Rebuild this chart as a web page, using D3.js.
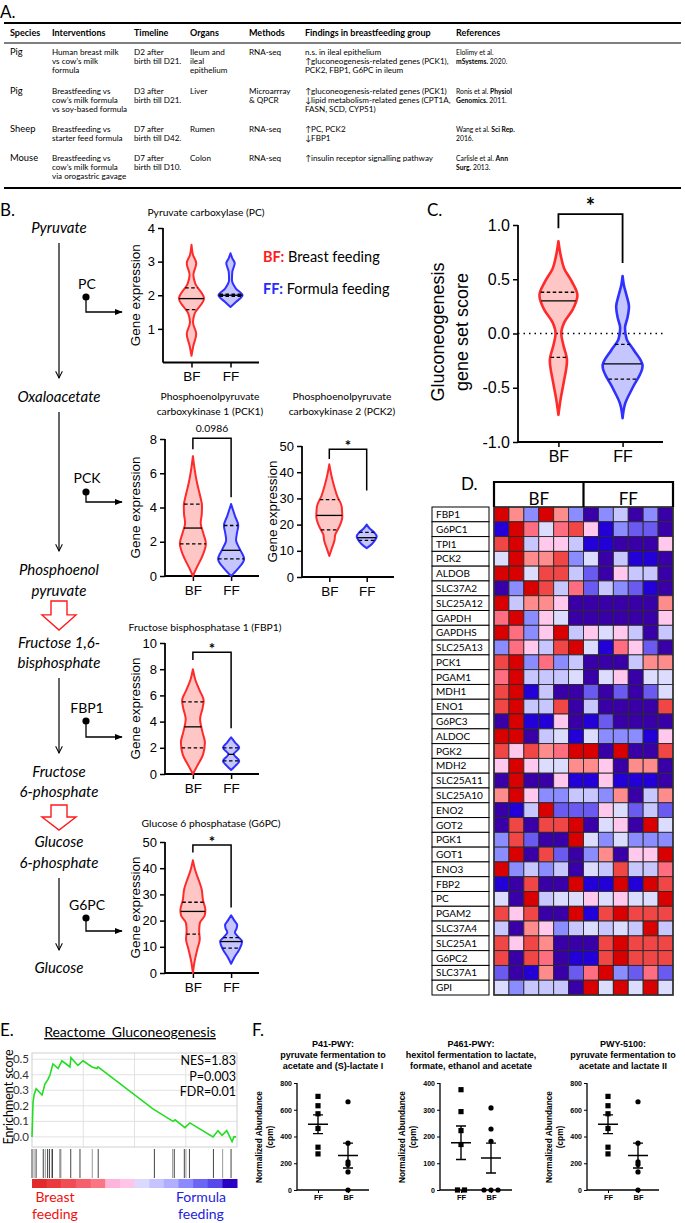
<!DOCTYPE html>
<html lang="en">
<head>
<meta charset="utf-8">
<title>Gluconeogenesis and breastfeeding</title>
<script src="https://d3js.org/d3.v7.min.js"></script>
<style>
  body { margin: 0; background: #fff; }
  svg { font-family: Lato, "Open Sans", sans-serif; }
  .arial { font-family: "Liberation Sans", Arial, sans-serif; }
</style>
</head>
<body>
<svg id="fig" width="685" height="1223"></svg>
<script>
// ---------- A. table ----------
var tableHeader = ["Species", "Interventions", "Timeline", "Organs", "Methods", "Findings in breastfeeding group", "References"];
var species = ["Pig", "Pig", "Sheep", "Mouse"];
var interventions = [["Human breast milk", "vs cow\u2019s milk", "formula"],
                     ["Breastfeeding vs", "cow\u2019s milk formula", "vs soy-based formula"],
                     ["Breastfeeding vs", "starter feed formula"],
                     ["Breastfeeding vs", "cow\u2019s milk formula", "via orogastric gavage"]];
var timelines = [["D2 after", "birth till D21."], ["D3 after", "birth till D21."],
                 ["D7 after", "birth till D42."], ["D7 after", "birth till D10."]];
var organs = [["Ileum and", "ileal", "epithelium"], ["Liver"], ["Rumen"], ["Colon"]];
var methods = [["RNA-seq"], ["Microarrray", "& QPCR"], ["RNA-seq"], ["RNA-seq"]];
var findings = [["n.s. in ileal epithelium", "\u2191gluconeogenesis-related genes (PCK1),", "PCK2, FBP1, G6PC in ileum"],
                ["\u2191gluconeogenesis-related genes (PCK1)", "\u2193lipid metabolism-related genes (CPT1A,", "FASN, SCD, CYP51)"],
                ["\u2191PC, PCK2", "\u2193FBP1"],
                ["\u2191insulin receptor signalling pathway"]];
// each line: [plain, bold, plain]
var references = [[["Elolimy et al.", "", ""], ["", "mSystems.", " 2020."]],
                  [["Ronis et al. ", "Physiol", ""], ["", "Genomics.", " 2011."]],
                  [["Wang et al. ", "Sci Rep.", ""], ["2016.", "", ""]],
                  [["Carlisle et al. ", "Ann", ""], ["", "Surg.", " 2013."]]];

// ---------- B. violins (value, relative density) ----------
var groups = ["BF", "FF"];
var pcBF = [[0.2,0],[0.5,0.15],[0.85,0.38],[1.2,0.12],[1.45,0.25],[1.9,1],[2.35,0.3],[2.6,0.15],[2.95,0.38],[3.2,0.12],[3.5,0]];
var pcFF = [[1.65,0],[1.8,0.45],[2.0,1],[2.2,0.45],[2.45,0.12],[2.7,0.15],[2.95,0.35],[3.1,0.15],[3.25,0]];
var pcStats = [[1.9, 1.57, 2.22], [2.0, 1.97, 2.03]];          // median, q1, q3
var pck1BF = [[0,0],[0.5,0.3],[1.2,0.75],[1.9,1],[2.5,0.8],[3.1,0.6],[3.6,0.68],[4.1,0.7],[4.7,0.55],[5.5,0.3],[6.3,0.12],[7,0]];
var pck1FF = [[0,0],[0.4,0.5],[1.0,1],[1.6,0.65],[2.1,0.38],[2.5,0.45],[2.95,0.55],[3.5,0.3],[4.2,0]];
var pck1Stats = [[2.8, 1.88, 4.2], [1.5, 1.0, 2.95]];
var pck2BF = [[8,0],[11,0.2],[14,0.4],[16,0.45],[19,0.75],[23,1],[27,0.95],[31,0.6],[35,0.35],[39,0.15],[43,0]];
var pck2FF = [[11,0],[12.5,0.5],[14.5,0.9],[15.5,1],[17,0.75],[18.5,0.3],[20,0]];
var pck2Stats = [[23.5, 18, 29.5], [15, 14, 17]];
var fbp1BF = [[0,0],[0.6,0.35],[1.5,0.85],[2.4,1],[3.2,0.8],[4.2,0.6],[5.0,0.8],[5.6,0.9],[6.4,0.55],[7.2,0.2],[8,0]];
var fbp1FF = [[0.3,0],[0.6,0.45],[1.0,0.9],[1.5,0.3],[2.0,0.9],[2.4,0.45],[2.8,0]];
var fbp1Stats = [[3.6, 2.0, 5.5], [1.5, 1.0, 2.0]];
var g6pcBF = [[0,0],[4,0.12],[9,0.35],[13,0.55],[16,0.5],[19,0.55],[22,0.95],[24,1],[28,0.8],[32,0.7],[35,0.5],[39,0.2],[43,0]];
var g6pcFF = [[3.5,0],[6,0.3],[9,0.75],[12,1],[14,0.6],[15.5,0.35],[17,0.5],[18.3,0.55],[20,0.3],[22,0]];
var g6pcStats = [[23.5, 14.8, 27], [12, 9.5, 13.5]];

// ---------- C. gene set score ----------
var scoreBF = [[-0.75,0],[-0.6,0.12],[-0.45,0.28],[-0.25,0.45],[-0.1,0.25],[0,0.15],[0.1,0.3],[0.22,0.75],[0.35,1],[0.48,0.7],[0.6,0.3],[0.72,0.12],[0.85,0]];
var scoreFF = [[-0.78,0],[-0.65,0.12],[-0.5,0.5],[-0.3,1],[-0.15,0.55],[-0.05,0.2],[0.05,0.12],[0.15,0.25],[0.25,0.32],[0.35,0.2],[0.45,0.06],[0.53,0]];
var scoreStats = [[0.3, -0.22, 0.38], [-0.28, -0.42, -0.1]];
var scoreTicks = [-1.0, -0.5, 0.0, 0.5, 1.0];

// ---------- D. heatmap (levels -5 blue .. 5 red) ----------
var genes = ["FBP1","G6PC1","TPI1","PCK2","ALDOB","SLC37A2","SLC25A12","GAPDH","GAPDHS","SLC25A13","PCK1",
             "PGAM1","MDH1","ENO1","G6PC3","ALDOC","PGK2","MDH2","SLC25A11","SLC25A10","ENO2","GOT2","PGK1",
             "GOT1","ENO3","FBP2","PC","PGAM2","SLC37A4","SLC25A1","G6PC2","SLC37A1","GPI"];
var samples = ["BF1","BF2","BF3","BF4","BF5","BF6","FF1","FF2","FF3","FF4","FF5","FF6"];
var heatLevels = [
  [5,2,-2,5,2,-2, -5,-2,-1,-5,-2,-5],
  [-4,5,3,0,3,4, 1,-4,-2,-3,-3,-5],
  [4,5,-1,1,1,-1, -4,-4,-5,-5,-5,1],
  [0,5,2,2,4,-2, 0,-5,-1,-4,-4,-5],
  [5,5,0,4,4,-1, -3,-5,1,-1,-1,-5],
  [-5,-2,5,4,-1,3, -3,-1,-2,-3,-4,-5],
  [5,-1,2,2,1,-5, -5,-5,-5,-5,-5,2],
  [3,5,-2,1,0,-5, -5,-5,-5,-5,-5,1],
  [5,3,-2,1,5,-1, 1,0,1,-1,-5,-1],
  [-2,3,1,-1,4,5, 0,-4,3,1,-3,-5],
  [4,5,-2,3,-2,-1, -5,-5,-5,-1,2,2],
  [3,5,-1,-1,-1,0, -5,0,1,-5,0,0],
  [4,5,-4,-1,-5,-5, -3,-5,-3,-5,-3,0],
  [4,5,-1,-1,4,-5, -1,-5,-5,-5,-5,4],
  [-5,5,-4,-4,1,-5, -4,-3,-5,-5,-5,-5],
  [5,5,-5,-1,0,-4, 0,-2,-2,-2,-4,1],
  [4,1,4,2,3,5, 5,-5,5,-5,-5,4],
  [1,5,1,0,0,2, 2,1,-5,2,2,-5],
  [-5,5,-5,-5,1,-4, -4,1,-4,-4,-4,-5],
  [2,5,1,-2,-2,-1, -1,-2,2,-5,-1,2],
  [-5,-4,-1,5,-3,-3, -3,1,0,-3,-1,-3],
  [-5,4,-5,4,4,5, -5,0,1,-5,5,0],
  [-2,4,-3,-5,-5,5, 0,-2,0,-2,-2,-2],
  [-2,5,-5,4,-3,-5, -2,2,-5,1,1,5],
  [5,-2,-1,-2,-1,-5, 0,-1,4,-1,-1,3],
  [-4,-5,4,-5,-5,5, -4,-4,5,-4,5,4],
  [0,-5,5,-1,0,0, 1,0,1,0,0,5],
  [4,1,4,-5,-5,5, -4,4,5,4,4,4],
  [-1,-5,2,1,-2,-1, 0,-1,0,-1,5,-1],
  [4,1,4,2,-5,-5, -5,4,5,4,4,4],
  [4,-5,4,3,-5,-4, -4,4,5,4,4,4],
  [-3,-5,-4,2,-5,-3, 3,5,-2,-3,3,-3],
  [0,-2,-1,-1,-1,-5, 5,0,5,0,5,0]
];
var heatColors = ["#3a00a8","#2400d8","#6a5af0","#8a8cff","#c8c6ff","#dcdcff",
                  "#ffc8ec","#ff8c8c","#ff6e80","#f04646","#d80000"];

// ---------- E. GSEA ----------
var esRank  = [0,0.5,1,2,4.9,6.3,7.8,8.8,10.2,12.7,14.6,18.5,19,22.4,24.9,29.3,31.7,32.2,59,68.8,69.8,74.6,77,88.3,90.7,92.7,95,97.6,98.5,99.5];
var esScore = [0,0.22,0.27,0.31,0.27,0.34,0.37,0.40,0.47,0.44,0.49,0.45,0.51,0.46,0.49,0.45,0.44,0.45,0.18,0.10,0.11,0.06,0.09,0.0,0.04,0.01,0.04,-0.03,0.0,0.0];
var hitRank = [0,1,2,5.5,6.5,7.6,8.5,9.6,10,13.7,14.1,18.9,23.4,29.4,32.3,59.7,68.6,69.4,74.3,75.1,76.8,88.5,93,97.1];
var esTicks = [0.0, 0.1, 0.2, 0.3, 0.4, 0.5];
var gseaStats = ["NES=1.83", "P=0.003", "FDR=0.01"];
var rankColors = ["#e32a2a","#ea3a3e","#f04c54","#f5606c","#f97682","#ffb4dc","#ffc4e6","#dcd8ff","#c6c4ff",
                  "#b0aeff","#8c8aff","#6c66f4","#5648ea","#2a00c4"];

// ---------- F. pathways ----------
var pwTitles = [["P41-PWY:", "pyruvate fermentation to", "acetate and (S)-lactate I"],
                ["P461-PWY:", "hexitol fermentation to lactate,", "formate, ethanol and acetate"],
                ["PWY-5100:", "pyruvate fermentation to", "acetate and lactate II"]];
var pwGroups = ["FF", "BF"];
var p41FF = [700, 630, 570, 460, 320, 270],  p41BF = [660, 350, 210, 190, 135, 0];
var p461FF = [375, 293, 222, 170, 0, 0],     p461BF = [307, 228, 182, 0, 0, 0];
var p5100FF = [700, 630, 570, 460, 320, 270], p5100BF = [660, 350, 210, 190, 135, 0];
var pwMax = [800, 400, 800];

var RED = "#ff2a2a", BLUE = "#3030ff", RED_FILL = "#ffc6c6", BLUE_FILL = "#c6c6ff";
var svg = d3.select("#fig");

function label(t, x, y, size, opt) {
  opt = opt || {};
  return svg.append("text").attr("x", x).attr("y", y).attr("font-size", size)
    .attr("text-anchor", opt.anchor || "start")
    .attr("font-weight", opt.bold ? "bold" : null)
    .attr("font-style", opt.italic ? "italic" : null)
    .attr("class", opt.cls || null)
    .attr("fill", opt.fill || "#000")
    .text(t);
}
function vlabel(t, cx, cy, size, cls, bold) {
  svg.append("text").attr("transform", "translate(" + cx + "," + cy + ") rotate(-90)")
    .attr("dy", "0.35em").attr("text-anchor", "middle").attr("font-size", size)
    .attr("class", cls || null).attr("font-weight", bold ? "bold" : null).text(t);
}
var hyphen = function(f) { return function(d) { return f(d).replace("\u2212", "-"); }; };

// ================= A =================
label("A.", 0, 18, 17);
svg.append("line").attr("x1", 4).attr("x2", 681).attr("y1", 23).attr("y2", 23).attr("stroke", "#000").attr("stroke-width", 2);
svg.append("line").attr("x1", 4).attr("x2", 681).attr("y1", 43).attr("y2", 43).attr("stroke", "#000").attr("stroke-width", 1);
svg.append("line").attr("x1", 4).attr("x2", 681).attr("y1", 188).attr("y2", 188).attr("stroke", "#000").attr("stroke-width", 2);
var colX = [10, 52, 134, 190, 249, 305, 456];
tableHeader.forEach(function(h, i) { label(h, colX[i], 36, 9, {bold: true}); });
var rowY = [54.5, 93.5, 132, 161], lineStep = 9.2;
var bodyCols = [interventions, timelines, organs, methods, findings];
species.forEach(function(s, r) {
  label(s, colX[0], rowY[r], 9.4);
  bodyCols.forEach(function(col, c) {
    col[r].forEach(function(line, k) { label(line, colX[c + 1], rowY[r] + k * lineStep, 8.1); });
  });
  references[r].forEach(function(parts, k) {
    var t = svg.append("text").attr("x", colX[6]).attr("y", rowY[r] + k * lineStep).attr("font-size", 6.8);
    parts.forEach(function(p, j) { if (p) t.append("tspan").attr("font-weight", j === 1 ? "bold" : null).text(p); });
  });
});

// ================= B =================
label("B.", 0, 216, 17);
var pathText = [["Pyruvate", 233], ["Oxaloacetate", 402], ["Phosphoenol", 575], ["pyruvate", 596],
                ["Fructose 1,6-", 648], ["bisphosphate", 668], ["Fructose", 777], ["6-phosphate", 797],
                ["Glucose", 847], ["6-phosphate", 868], ["Glucose", 973]];
pathText.forEach(function(p) { label(p[0], 59, p[1], 15, {anchor: "middle", italic: true}); });

svg.append("defs").html(
  '<marker id="chev" viewBox="0 0 10 10" refX="9" refY="5" markerWidth="7" markerHeight="7" orient="auto">' +
  '<path d="M1,1 L9,5 L1,9" fill="none" stroke="#000" stroke-width="1.2"/></marker>' +
  '<marker id="tri" viewBox="0 0 10 10" refX="9" refY="5" markerWidth="6" markerHeight="6" orient="auto">' +
  '<path d="M0,1 L10,5 L0,9 z" fill="#000"/></marker>');

[[243, 378], [412, 551], [678, 753], [878, 950]].forEach(function(a) {
  svg.append("line").attr("x1", 59).attr("x2", 59).attr("y1", a[0]).attr("y2", a[1])
    .attr("stroke", "#000").attr("stroke-width", 1.2).attr("marker-end", "url(#chev)");
});
[["PC", 289, 297, 312], ["PCK", 483, 492, 502], ["FBP1", 713, 721, 737], ["G6PC", 910, 918, 931]].forEach(function(e) {
  label(e[0], 87, e[1], 14, {anchor: "middle"});
  svg.append("circle").attr("cx", 86).attr("cy", e[2]).attr("r", 3.6).attr("fill", "#000");
  svg.append("path").attr("d", "M86," + e[2] + " V" + e[3] + " H122").attr("fill", "none")
    .attr("stroke", "#000").attr("stroke-width", 1.3).attr("marker-end", "url(#tri)");
});
[[601, 630], [805, 830]].forEach(function(b) {
  var y0 = b[0], y1 = b[1], ym = y0 + (y1 - y0) * 0.48;
  svg.append("path").attr("d", "M51," + y0 + " H67 V" + ym + " H76 L59," + y1 + " L42," + ym + " H51 Z")
    .attr("fill", "#fff").attr("stroke", "#ff1a1a").attr("stroke-width", 1.4);
});

function drawViolin(g, y, cx, prof, stats, maxHalf, stroke, fill, sw) {
  var w = d3.scaleLinear().domain([0, 1]).range([0, maxHalf]);
  var area = d3.area().curve(d3.curveMonotoneY)
    .y(function(d) { return y(d[0]); })
    .x0(function(d) { return cx - w(d[1]); })
    .x1(function(d) { return cx + w(d[1]); });
  g.append("path").datum(prof).attr("d", area).attr("fill", fill)
    .attr("stroke", stroke).attr("stroke-width", sw).attr("stroke-linejoin", "round");
  var hw = d3.scaleLinear().domain(prof.map(function(d) { return d[0]; }))
    .range(prof.map(function(d) { return w(d[1]); }));
  stats.forEach(function(v, i) {
    var h = Math.max(hw(v), 3);
    g.append("line").attr("x1", cx - h).attr("x2", cx + h).attr("y1", y(v)).attr("y2", y(v))
      .attr("stroke", "#000").attr("stroke-width", 1.3)
      .attr("stroke-dasharray", i === 0 ? null : "3.5,2.5");
  });
}

function violinChart(o) {
  var g = svg.append("g").attr("class", "arial");
  var y = d3.scaleLinear().domain(o.domain).range([o.yBot, o.yTop]);
  var x = d3.scalePoint().domain(groups).range([o.axisX, o.xEnd]).padding(o.pad || 0.73);
  var ya = g.append("g").attr("transform", "translate(" + o.axisX + ",0)")
    .call(d3.axisLeft(y).tickValues(o.ticks).tickFormat(hyphen(d3.format(o.fmt || "d"))).tickSize(5).tickPadding(3));
  ya.select(".domain").attr("d", "M0," + o.yTop + "V" + o.yBot).attr("stroke-width", 1.8);
  ya.selectAll(".tick line").attr("stroke-width", 1.5);
  ya.selectAll("text").attr("font-size", o.tickSize || 13).attr("font-family", "Liberation Sans");
  var xa = g.append("g").attr("transform", "translate(0," + o.yBot + ")")
    .call(d3.axisBottom(x).tickSize(5).tickPadding(4));
  xa.select(".domain").attr("d", "M" + o.axisX + ",0H" + o.xEnd).attr("stroke-width", 1.8);
  xa.selectAll(".tick line").attr("stroke-width", 1.5);
  xa.selectAll("text").attr("font-size", o.catSize || 13.5).attr("font-family", "Liberation Sans");
  drawViolin(g, y, x("BF"), o.bf, o.stats[0], o.half[0], RED, RED_FILL, o.sw || 2);
  drawViolin(g, y, x("FF"), o.ff, o.stats[1], o.half[1], BLUE, BLUE_FILL, o.sw || 2);
  if (o.title) o.title.forEach(function(t, k) {
    label(t, o.titleX, o.titleY + k * 15, 10.3, {anchor: "middle"});
  });
  if (o.ylab) vlabel(o.ylab, o.ylabX, (o.yTop + o.yBot) / 2, o.ylabSize || 13.5, "arial");
  if (o.bracket) {
    var b = o.bracket, star = b[3] === "*";
    g.append("path").attr("d", "M" + x("BF") + "," + y(b[1]) + "V" + y(b[0]) + "H" + x("FF") + "V" + y(b[2]))
      .attr("fill", "none").attr("stroke", "#000").attr("stroke-width", o.bsw || 1.5);
    label(b[3], (x("BF") + x("FF")) / 2, y(b[0]) + (star ? o.starDy : -6), star ? o.starSize : 10.3,
      {anchor: "middle", bold: star});
  }
  return {x: x, y: y, g: g};
}

violinChart({axisX: 163, xEnd: 259, yTop: 228, yBot: 362.5, domain: [0, 4], ticks: [1, 2, 3, 4],
  bf: pcBF, ff: pcFF, stats: pcStats, half: [12.5, 12], title: ["Pyruvate carboxylase (PC)"], titleX: 206, titleY: 216,
  ylab: "Gene expression", ylabX: 135});
violinChart({axisX: 165, xEnd: 259, yTop: 439, yBot: 576, domain: [0, 8], ticks: [0, 2, 4, 6, 8],
  bf: pck1BF, ff: pck1FF, stats: pck1Stats, half: [13, 13], title: ["Phosphoenolpyruvate", "carboxykinase 1 (PCK1)"],
  titleX: 210, titleY: 400, ylab: "Gene expression", ylabX: 135, bracket: [8.05, 7.4, 4.6, "0.0986"]});
violinChart({axisX: 302, xEnd: 394, yTop: 446, yBot: 577, domain: [0, 50], ticks: [0, 10, 20, 30, 40, 50],
  bf: pck2BF, ff: pck2FF, stats: pck2Stats, half: [13, 10], title: ["Phosphoenolpyruvate", "carboxykinase 2 (PCK2)"],
  titleX: 342, titleY: 400, ylab: "Gene expression", ylabX: 272, bracket: [48.8, 45, 33, "*"], starDy: 2, starSize: 15});
violinChart({axisX: 165, xEnd: 259, yTop: 643, yBot: 774, domain: [0, 10], ticks: [0, 2, 4, 6, 8, 10],
  bf: fbp1BF, ff: fbp1FF, stats: fbp1Stats, half: [12, 9], title: ["Fructose bisphosphatase 1 (FBP1)"],
  titleX: 205, titleY: 631, ylab: "Gene expression", ylabX: 135, bracket: [9.3, 8.7, 3.5, "*"], starDy: 2, starSize: 15});
violinChart({axisX: 165, xEnd: 259, yTop: 842, yBot: 973, domain: [0, 50], ticks: [0, 10, 20, 30, 40, 50],
  bf: g6pcBF, ff: g6pcFF, stats: g6pcStats, half: [12.5, 11], title: ["Glucose 6 phosphatase (G6PC)"],
  titleX: 211, titleY: 827, ylab: "Gene expression", ylabX: 135, bracket: [48.9, 46, 25, "*"], starDy: 2, starSize: 15});

var lg1 = svg.append("text").attr("x", 263).attr("y", 262).attr("font-size", 14.5);
lg1.append("tspan").attr("fill", "#ff1a1a").attr("font-weight", "bold").text("BF:");
lg1.append("tspan").text(" Breast feeding");
var lg2 = svg.append("text").attr("x", 263).attr("y", 294).attr("font-size", 14.5);
lg2.append("tspan").attr("fill", "#2a2aff").attr("font-weight", "bold").text("FF:");
lg2.append("tspan").text(" Formula feeding");

// ================= C =================
label("C.", 427, 216, 17);
(function() {
  var c = violinChart({axisX: 518, xEnd: 663, yTop: 225, yBot: 442, domain: [-1, 1], ticks: scoreTicks, fmt: ".1f",
    pad: 0.63, bf: scoreBF, ff: scoreFF, stats: scoreStats, half: [19, 20], tickSize: 16, catSize: 16, sw: 2.6});
  c.g.append("line").attr("x1", 518).attr("x2", 663).attr("y1", c.y(0)).attr("y2", c.y(0))
    .attr("stroke", "#000").attr("stroke-width", 1.6).attr("stroke-dasharray", "1.5,4");
  c.g.append("path").attr("d", "M" + c.x("BF") + "," + c.y(0.97) + "V" + c.y(1.1) + "H" + c.x("FF") + "V" + c.y(0.65))
    .attr("fill", "none").attr("stroke", "#000").attr("stroke-width", 1.8);
  label("*", (c.x("BF") + c.x("FF")) / 2, 214, 22, {anchor: "middle", bold: true});
  vlabel("Gluconeogenesis", 438, 332, 18, "arial");
  vlabel("gene set score", 462, 332, 18, "arial");
})();

// ================= D =================
label("D.", 461, 490, 17);
(function() {
  var x = d3.scaleBand().domain(samples).range([494, 673]);
  var y = d3.scaleBand().domain(genes).range([507, 995]);
  var col = d3.scaleOrdinal().domain(d3.range(-5, 6)).range(heatColors);
  var g = svg.append("g");
  genes.forEach(function(gene, r) {
    g.selectAll(null).data(heatLevels[r]).enter().append("rect")
      .attr("x", function(d, i) { return x(samples[i]); }).attr("y", y(gene))
      .attr("width", x.bandwidth()).attr("height", y.bandwidth())
      .attr("fill", function(d) { return col(d); }).attr("stroke", "#2a2a2a").attr("stroke-width", 0.9);
    g.append("rect").attr("x", 432).attr("y", y(gene)).attr("width", 57).attr("height", y.bandwidth())
      .attr("fill", "#fff").attr("stroke", "#000").attr("stroke-width", 1);
    g.append("text").attr("x", 436).attr("y", y(gene) + y.bandwidth() / 2).attr("dy", "0.36em")
      .attr("font-size", 10).text(gene);
  });
  g.append("rect").attr("x", 494).attr("y", 507).attr("width", 179).attr("height", 488)
    .attr("fill", "none").attr("stroke", "#333").attr("stroke-width", 1.6);
  g.append("path").attr("d", "M494,507V482H673V507M" + x("FF1") + ",482V507").attr("fill", "none")
    .attr("stroke", "#000").attr("stroke-width", 2.2);
  g.append("text").attr("x", (494 + x("FF1")) / 2).attr("y", 505).attr("text-anchor", "middle").attr("font-size", 17).text("BF");
  g.append("text").attr("x", (x("FF1") + 673) / 2).attr("y", 505).attr("text-anchor", "middle").attr("font-size", 17).text("FF");
})();

// ================= E =================
label("E.", 0, 1036, 17);
label("Reactome_Gluconeogenesis", 130, 1037, 14, {anchor: "middle"}).attr("text-decoration", "underline");
(function() {
  var x = d3.scaleLinear().domain([0, 100]).range([32, 237]);
  var y = d3.scaleLinear().domain([-0.065, 0.54]).range([1147, 1053]);
  var g = svg.append("g");
  esTicks.forEach(function(t) {
    g.append("line").attr("x1", 32).attr("x2", 237).attr("y1", y(t)).attr("y2", y(t)).attr("stroke", "#e2e2e2");
    g.append("text").attr("x", 29).attr("y", y(t)).attr("dy", "0.35em").attr("text-anchor", "end")
      .attr("font-size", 11.5).attr("fill", "#333").text(d3.format(".1f")(t));
  });
  [25, 50, 75].forEach(function(t) {
    g.append("line").attr("x1", x(t)).attr("x2", x(t)).attr("y1", 1053).attr("y2", 1147).attr("stroke", "#e2e2e2");
  });
  g.append("rect").attr("x", 32).attr("y", 1053).attr("width", 205).attr("height", 94).attr("fill", "none").attr("stroke", "#cfcfcf");
  var line = d3.line().x(function(d, i) { return x(esRank[i]); }).y(function(d) { return y(d); });
  g.append("path").datum(esScore).attr("d", line).attr("fill", "none").attr("stroke", "#22dd22").attr("stroke-width", 1.6);
  g.selectAll(null).data(hitRank).enter().append("line")
    .attr("x1", function(d) { return x(d); }).attr("x2", function(d) { return x(d); })
    .attr("y1", 1149).attr("y2", 1178).attr("stroke", function(d, i) { return i % 3 === 1 ? "#999" : "#444"; })
    .attr("stroke-width", 1);
  var cb = d3.scaleBand().domain(d3.range(rankColors.length)).range([32, 237]);
  g.selectAll(null).data(rankColors).enter().append("rect")
    .attr("x", function(d, i) { return cb(i); }).attr("y", 1179).attr("width", cb.bandwidth() + 0.5).attr("height", 9)
    .attr("fill", function(d) { return d; });
  gseaStats.forEach(function(s, i) {
    g.append("text").attr("x", 236).attr("y", 1065 + i * 15.5).attr("text-anchor", "end").attr("font-size", 12.5).text(s);
  });
  vlabel("Enrichment score", 9, 1097, 12.5);
  label("Breast", 55, 1202, 14, {anchor: "middle", fill: "#ee1111"});
  label("feeding", 55, 1219, 14, {anchor: "middle", fill: "#ee1111"});
  label("Formula", 201, 1202, 14, {anchor: "middle", fill: "#2222dd"});
  label("feeding", 201, 1219, 14, {anchor: "middle", fill: "#2222dd"});
})();

// ================= F =================
label("F.", 252, 1036, 17);
(function() {
  var sets = [[p41FF, p41BF], [p461FF, p461BF], [p5100FF, p5100BF]];
  var axes = [297, 440, 587], centers = [333, 471, 623];
  sets.forEach(function(s, k) {
    var ax = axes[k];
    var g = svg.append("g").attr("class", "arial");
    pwTitles[k].forEach(function(t, j) {
      g.append("text").attr("x", centers[k]).attr("y", 1047 + j * 11).attr("text-anchor", "middle")
        .attr("font-size", 9).attr("font-weight", "bold").text(t);
    });
    var y = d3.scaleLinear().domain([0, pwMax[k]]).range([1190, 1083]);
    var x = d3.scalePoint().domain(pwGroups).range([ax, ax + 72]).padding(0.7);
    var ya = g.append("g").attr("transform", "translate(" + ax + ",0)")
      .call(d3.axisLeft(y).ticks(4).tickSize(3).tickPadding(2));
    ya.select(".domain").attr("d", "M0,1083V1190").attr("stroke-width", 1.3);
    ya.selectAll("text").attr("font-size", 7).attr("font-weight", "bold");
    var xa = g.append("g").attr("transform", "translate(0,1190)")
      .call(d3.axisBottom(x).tickSize(3).tickPadding(2));
    xa.select(".domain").attr("d", "M" + ax + ",0H" + (ax + 72)).attr("stroke-width", 1.3);
    xa.selectAll("text").attr("font-size", 7.5).attr("font-weight", "bold");
    g.append("text").attr("transform", "translate(" + (ax - 38) + ",1137) rotate(-90)").attr("text-anchor", "middle")
      .attr("dy", "0.35em").attr("font-size", 8.3).attr("font-weight", "bold").text("Normalized Abundance");
    g.append("text").attr("transform", "translate(" + (ax - 27) + ",1137) rotate(-90)").attr("text-anchor", "middle")
      .attr("dy", "0.35em").attr("font-size", 8.3).attr("font-weight", "bold").text("(cpm)");
    s.forEach(function(vals, gi) {
      var cx = x(pwGroups[gi]);
      var seen = {};
      vals.forEach(function(v) {
        var dup = vals.filter(function(u) { return u === v; }).length;
        seen[v] = (seen[v] || 0) + 1;
        var dx = dup > 1 ? (seen[v] - 1 - (dup - 1) / 2) * 7 : 0;
        if (gi === 0) g.append("rect").attr("x", cx + dx - 2.6).attr("y", y(v) - 2.6).attr("width", 5.2).attr("height", 5.2);
        else g.append("circle").attr("cx", cx + dx).attr("cy", y(v)).attr("r", 2.6);
      });
      var m = d3.mean(vals), se = d3.deviation(vals) / Math.sqrt(vals.length);
      g.append("path").attr("d", "M" + (cx - 10) + "," + y(m) + "H" + (cx + 10) +
        "M" + cx + "," + y(m - se) + "V" + y(m + se) +
        "M" + (cx - 5) + "," + y(m - se) + "H" + (cx + 5) + "M" + (cx - 5) + "," + y(m + se) + "H" + (cx + 5))
        .attr("stroke", "#000").attr("stroke-width", 1.4).attr("fill", "none");
    });
  });
})();
</script>
</body>
</html>
